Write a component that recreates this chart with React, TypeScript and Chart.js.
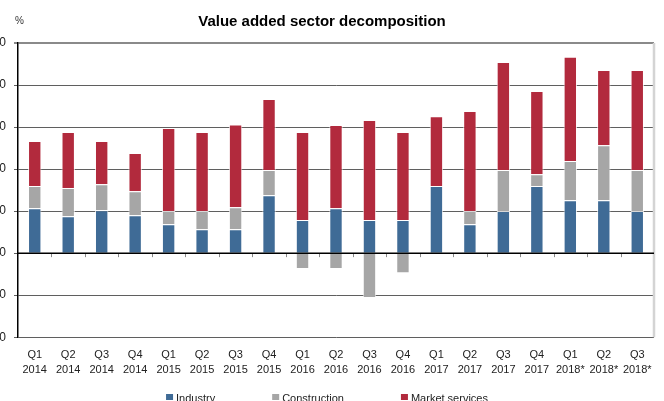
import React, { useEffect, useRef } from "react";
import { Chart, registerables } from "chart.js";

Chart.register(...registerables);

const categories: string[][] = [
  ["Q1", "2014"], ["Q2", "2014"], ["Q3", "2014"], ["Q4", "2014"],
  ["Q1", "2015"], ["Q2", "2015"], ["Q3", "2015"], ["Q4", "2015"],
  ["Q1", "2016"], ["Q2", "2016"], ["Q3", "2016"], ["Q4", "2016"],
  ["Q1", "2017"], ["Q2", "2017"], ["Q3", "2017"], ["Q4", "2017"],
  ["Q1", "2018*"], ["Q2", "2018*"], ["Q3", "2018*"],
];

const industry: number[] = [1.07, 0.88, 1.02, 0.9, 0.69, 0.57, 0.57, 1.38, 0.79, 1.07, 0.79, 0.79, 1.6, 0.69, 1.0, 1.6, 1.26, 1.26, 1.0];
const construction: number[] = [0.53, 0.67, 0.62, 0.57, 0.31, 0.43, 0.52, 0.6, -0.38, -0.38, -1.07, -0.48, 0, 0.31, 0.98, 0.28, 0.93, 1.31, 0.98];
const marketServices: number[] = [1.07, 1.33, 1.03, 0.91, 1.98, 1.88, 1.97, 1.69, 2.09, 1.98, 2.38, 2.09, 1.66, 2.38, 2.57, 1.98, 2.48, 1.79, 2.38];

const seriesNames = ["Industry", "Construction", "Market services"];
const seriesColors = ["#3F6B96", "#A6A6A6", "#B22A3D"];

const yMin = -2;
const yMax = 5;
const yStep = 1;

const FONT = "'Liberation Sans', Arial, sans-serif";

const decorPlugin = {
  id: "decor",
  afterDraw(chart: any) {
    const { ctx, chartArea, scales } = chart;
    const x = scales.x;
    const y = scales.y;
    ctx.save();
    // right border
    ctx.strokeStyle = "#d4d4d4";
    ctx.lineWidth = 2.5;
    ctx.beginPath();
    ctx.moveTo(chartArea.right, chartArea.top);
    ctx.lineTo(chartArea.right, chartArea.bottom);
    ctx.stroke();
    // ticks on zero line
    const y0 = y.getPixelForValue(0);
    const n = chart.data.labels.length;
    const half = (x.getPixelForValue(1) - x.getPixelForValue(0)) / 2;
    ctx.strokeStyle = "#888";
    ctx.lineWidth = 1;
    for (let i = 1; i < n; i++) {
      const px = Math.round(x.getPixelForValue(i) - half) + 0.5;
      ctx.beginPath();
      ctx.moveTo(px, y0);
      ctx.lineTo(px, y0 + 4);
      ctx.stroke();
    }
    // zero line on top
    ctx.strokeStyle = "#000";
    ctx.lineWidth = 1.5;
    ctx.beginPath();
    ctx.moveTo(chartArea.left, y0);
    ctx.lineTo(chartArea.right, y0);
    ctx.stroke();
    // % unit label
    ctx.fillStyle = "#333";
    ctx.font = `10px ${FONT}`;
    ctx.textBaseline = "middle";
    ctx.textAlign = "left";
    ctx.fillText("%", chartArea.left - 3, 21);
    // legend
    ctx.font = `11px ${FONT}`;
    const box = 7;
    const gapBox = 3;
    const gapItem = 57;
    const items = chart.data.datasets.map((d: any) => ({
      text: d.label,
      color: d.backgroundColor,
      w: box + gapBox + ctx.measureText(d.label).width,
    }));
    const total = items.reduce((s: number, it: any) => s + it.w, 0) + gapItem * (items.length - 1);
    let cx = chart.width / 2 - total / 2;
    const ly = 398;
    items.forEach((it: any) => {
      ctx.fillStyle = it.color;
      ctx.fillRect(cx, ly - 4, box, box - 1);
      ctx.fillStyle = "#222";
      ctx.fillText(it.text, cx + box + gapBox, ly + 1);
      cx += it.w + gapItem;
    });
    ctx.restore();
  },
};

export default function App() {
  const ref = useRef<HTMLCanvasElement | null>(null);
  useEffect(() => {
    if (!ref.current) return;
    Chart.defaults.font.family = FONT;
    const data = [industry, construction, marketServices];
    const chart = new Chart(ref.current, {
      type: "bar",
      data: {
        labels: categories,
        datasets: data.map((vals, i) => ({
          label: seriesNames[i],
          data: vals,
          backgroundColor: seriesColors[i],
          borderColor: "rgba(255,255,255,0.75)",
          borderWidth: 1,
          barPercentage: 0.4,
          categoryPercentage: 1,
        })),
      },
      options: {
        responsive: false,
        animation: false,
        layout: { padding: { left: 0, right: 10, top: 0, bottom: 21 } },
        plugins: {
          legend: { display: false },
          tooltip: { enabled: false },
          title: {
            display: true,
            text: "Value added sector decomposition",
            color: "#000",
            font: { size: 15, weight: "bold", family: FONT },
            padding: { top: 13, bottom: 12 },
          },
        },
        scales: {
          x: {
            stacked: true,
            grid: { display: false },
            border: { display: false },
            ticks: {
              color: "#222",
              font: { size: 11, family: FONT, lineHeight: 1.4 },
              padding: 2,
              maxRotation: 0,
              autoSkip: false,
            },
          },
          y: {
            stacked: true,
            min: yMin,
            max: yMax,
            afterFit(scale: any) {
              scale.width = 28;
            },
            border: { display: true, color: "#000", width: 1.5 },
            grid: {
              tickLength: 4,
              color: (c: any) => (c.tick && c.tick.value === yMax ? "#8a8a8a" : "#5f5f5f"),
              lineWidth: (c: any) => (c.tick && c.tick.value === yMax ? 2 : 1),
            },
            ticks: {
              stepSize: yStep,
              color: "#222",
              padding: 8,
              font: { size: 12, family: FONT },
              callback: (v: any) => Number(v).toFixed(1),
            },
          },
        },
      },
      plugins: [decorPlugin],
    });
    return () => chart.destroy();
  }, []);
  return (
    <div style={{ position: "fixed", left: -10, top: 0, width: 674, height: 401, overflow: "hidden" }}>
      <canvas ref={ref} width={674} height={401} style={{ width: 674, height: 401 }} />
    </div>
  );
}
